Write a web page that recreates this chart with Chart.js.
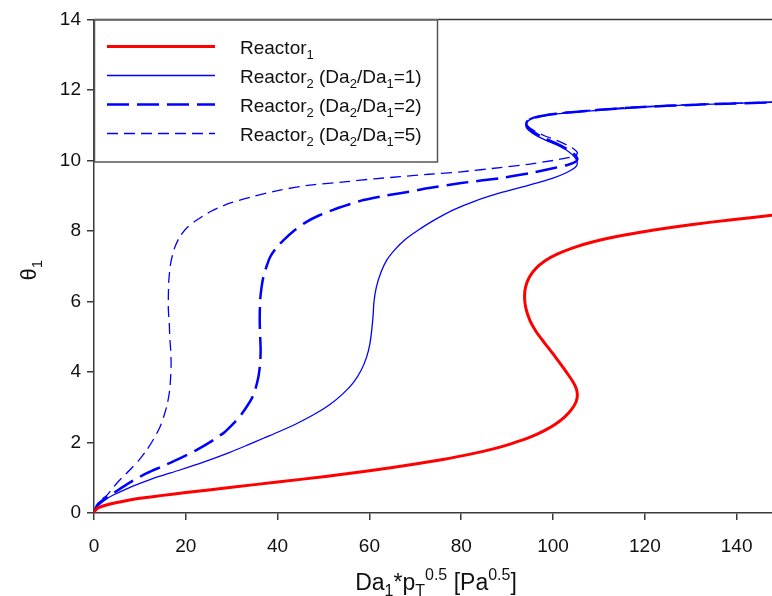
<!DOCTYPE html>
<html>
<head>
<meta charset="utf-8">
<script src="https://cdn.jsdelivr.net/npm/chart.js@4.4.1/dist/chart.umd.min.js"></script>
<style>
  html, body { margin: 0; padding: 0; background: #fff; overflow: hidden; }
  #wrap { width: 772px; height: 596px; position: relative; }
</style>
</head>
<body>
<div id="wrap"><canvas id="c" width="772" height="596"></canvas></div>
<script>
// Tick values of both axes
const xTickValues = [0, 20, 40, 60, 80, 100, 120, 140];
const yTickValues = [0, 2, 4, 6, 8, 10, 12, 14];

// Axis titles and legend entries (_{..} = subscript, ^{..} = superscript)
const xTitle = 'Da_{1}*p_{T}^{0.5} [Pa^{0.5}]';
const yTitle = '\u03B8_{1}';
const seriesLabels = [
  'Reactor_{1}',
  'Reactor_{2} (Da_{2}/Da_{1}=1)',
  'Reactor_{2} (Da_{2}/Da_{1}=2)',
  'Reactor_{2} (Da_{2}/Da_{1}=5)'
];

// theta_1 vs Da_1*p_T^0.5 along each steady-state branch, [x, y]
const reactor1 = [
  [0, 0], [0.3, 0.08], [1, 0.15], [2.5, 0.22], [5, 0.3], [10, 0.42], [15, 0.5],
  [20, 0.58], [30, 0.73], [40, 0.88], [50, 1.03], [60, 1.2], [70, 1.39],
  [76, 1.52], [82, 1.67], [87, 1.82], [91, 1.97], [95, 2.15], [98, 2.33],
  [100.5, 2.52], [102.5, 2.72], [104, 2.93], [105, 3.15], [105.3, 3.35],
  [105, 3.55], [104.2, 3.75], [103, 3.98], [101.5, 4.25], [99.8, 4.55],
  [98, 4.85], [96.3, 5.15], [95, 5.45], [94.1, 5.8], [93.8, 6.1], [94, 6.4],
  [94.8, 6.68], [96.2, 6.93], [98.2, 7.15], [101, 7.35], [104.5, 7.53],
  [109, 7.7], [115, 7.87], [122, 8.03], [130, 8.18], [139, 8.32], [148, 8.45]
];
const reactor2Ratio1 = [
  [0, 0], [0.3, 0.1], [1, 0.22], [2.5, 0.38], [4.2, 0.51], [7, 0.68], [10, 0.84],
  [14, 1.03], [18.7, 1.22], [24, 1.45], [29.6, 1.72], [33.5, 1.93], [36.9, 2.12],
  [40.5, 2.32], [44.2, 2.54], [48, 2.8], [51.4, 3.08], [54.2, 3.38], [56.5, 3.7],
  [58.2, 4.05], [59.4, 4.43], [60.1, 4.8], [60.5, 5.19], [60.8, 5.6], [61, 6.0],
  [61.5, 6.4], [62.5, 6.82], [63.8, 7.18], [65.6, 7.48], [67.8, 7.76],
  [70.6, 8.02], [74, 8.3], [78.3, 8.6], [83, 8.85], [89, 9.1], [95, 9.31],
  [100, 9.5], [103, 9.66], [104.8, 9.8], [105.3, 9.92], [104.8, 10.08],
  [103.2, 10.27], [100.8, 10.44], [98, 10.6], [95.6, 10.77], [94.2, 10.93],
  [94.2, 11.08], [95.8, 11.2], [99, 11.29], [104, 11.36], [110.3, 11.43],
  [117, 11.49], [124.8, 11.55], [135, 11.6], [148, 11.65]
];
const reactor2Ratio2 = [
  [0, 0], [0.3, 0.12], [1, 0.27], [2.5, 0.42], [4.2, 0.56], [7.5, 0.84],
  [11.5, 1.13], [15, 1.33], [18.7, 1.55], [22.5, 1.8], [26, 2.07], [28.5, 2.3],
  [30.4, 2.54], [32, 2.78], [33.3, 3.02], [34.4, 3.26], [35.1, 3.49],
  [35.8, 3.85], [36.2, 4.25], [36.3, 4.65], [36.2, 5.0], [36.1, 5.5],
  [36.2, 6.04], [36.5, 6.4], [36.9, 6.7], [37.6, 7.0], [38.4, 7.27],
  [39.7, 7.52], [41.3, 7.74], [43.5, 8.0], [46.3, 8.26], [49, 8.44],
  [52.1, 8.6], [55.5, 8.75], [58.7, 8.88], [62.5, 8.98], [66.7, 9.07],
  [73, 9.22], [80, 9.36], [88.5, 9.5], [95, 9.64], [100, 9.78], [103.3, 9.88],
  [105, 9.97], [105.3, 10.05], [104.6, 10.18], [103, 10.33], [100.8, 10.48],
  [98, 10.64], [95.6, 10.82], [94.3, 10.97], [94.3, 11.1], [95.8, 11.21],
  [99, 11.3], [104, 11.37], [110.3, 11.44], [117, 11.5], [124.8, 11.55],
  [135, 11.6], [148, 11.65]
];
const reactor2Ratio5 = [
  [0, 0], [0.3, 0.12], [1, 0.3], [1.8, 0.4], [2.8, 0.5], [5, 0.85], [7.8, 1.22],
  [9.8, 1.5], [11.5, 1.79], [13, 2.1], [14.4, 2.45], [15.3, 2.78], [16, 3.11],
  [16.5, 3.5], [16.7, 3.87], [16.8, 4.25], [16.7, 4.62], [16.5, 5.0],
  [16.4, 5.38], [16.2, 5.76], [16.2, 6.14], [16.3, 6.6], [16.7, 7.08],
  [17.5, 7.5], [18.7, 7.84], [20.3, 8.1], [22.4, 8.31], [25.5, 8.56],
  [29.6, 8.79], [35, 8.99], [40.5, 9.16], [47, 9.3], [55.1, 9.4], [61, 9.48],
  [66.7, 9.54], [73, 9.61], [80, 9.68], [88.5, 9.8], [95, 9.9], [100, 10.0],
  [103.3, 10.08], [105, 10.15], [105.3, 10.22], [104.6, 10.32], [103, 10.44],
  [100.8, 10.57], [98, 10.71], [95.6, 10.87], [94.4, 11.0], [94.4, 11.13],
  [95.8, 11.23], [99, 11.31], [104, 11.38], [110.3, 11.45], [117, 11.51],
  [124.8, 11.56], [135, 11.61], [148, 11.66]
];

const FONT = '"Liberation Sans", Arial, sans-serif';
const AXIS_COLOR = '#3a3a3a';

// ---- rich text with sub/superscripts ----
function parseRich(s) {
  const out = [];
  const re = /([_^])\{([^}]*)\}|([^_^]+)/g;
  let m;
  while ((m = re.exec(s))) {
    if (m[3] !== undefined) out.push({ t: m[3], k: 0 });
    else out.push({ t: m[2], k: m[1] === '_' ? 1 : -1 });
  }
  return out;
}
function plain(s) { return s.replace(/[_^]\{([^}]*)\}/g, '$1'); }
function richWidth(ctx, parts, size) {
  let w = 0;
  for (const p of parts) {
    ctx.font = (p.k ? Math.round(size * 0.68) : size) + 'px ' + FONT;
    w += ctx.measureText(p.t).width;
  }
  return w;
}
function drawRich(ctx, s, x, baseline, size, align) {
  const parts = parseRich(s);
  let cx = x;
  if (align === 'center') cx = x - richWidth(ctx, parts, size) / 2;
  ctx.textBaseline = 'alphabetic';
  ctx.textAlign = 'left';
  for (const p of parts) {
    const fs = p.k ? Math.round(size * 0.68) : size;
    ctx.font = fs + 'px ' + FONT;
    const dy = p.k === 1 ? size * 0.28 : p.k === -1 ? -size * 0.42 : 0;
    ctx.fillText(p.t, cx, baseline + dy);
    cx += ctx.measureText(p.t).width;
  }
}

// top frame line, axis titles and the boxed legend
const decorations = {
  id: 'decorations',
  afterDatasetsDraw(chart) {
    const ctx = chart.ctx;
    const a = chart.chartArea;
    ctx.save();
    ctx.strokeStyle = AXIS_COLOR;
    ctx.lineWidth = 1.5;
    ctx.beginPath();
    ctx.moveTo(a.left, a.top);
    ctx.lineTo(a.right, a.top);
    ctx.stroke();

    // legend
    const bx = a.left, by = a.top, bw = 344, bh = 143;
    ctx.fillStyle = '#fff';
    ctx.fillRect(bx, by, bw, bh);
    ctx.strokeStyle = '#555';
    ctx.lineWidth = 1.5;
    ctx.strokeRect(bx + 0.5, by + 0.5, bw - 1, bh - 1);
    chart.data.datasets.forEach((ds, i) => {
      const rowY = by + 27 + i * 29;
      ctx.strokeStyle = ds.borderColor;
      ctx.lineWidth = ds.borderWidth;
      ctx.setLineDash(ds.borderDash || []);
      ctx.beginPath();
      ctx.moveTo(bx + 13, rowY);
      ctx.lineTo(bx + 121, rowY);
      ctx.stroke();
      ctx.setLineDash([]);
      ctx.fillStyle = '#111';
      drawRich(ctx, seriesLabels[i], bx + 146, rowY + 7, 19);
    });

    // axis titles
    ctx.fillStyle = '#111';
    drawRich(ctx, xTitle, (a.left + a.right) / 2 + 3, 590, 23, 'center');
    ctx.translate(36, (a.top + a.bottom) / 2 + 4);
    ctx.rotate(-Math.PI / 2);
    drawRich(ctx, yTitle, 0, 0, 22, 'center');
    ctx.restore();
  }
};

const toPts = arr => arr.map(([x, y]) => ({ x, y }));

new Chart(document.getElementById('c').getContext('2d'), {
  type: 'scatter',
  data: {
    datasets: [
      { label: plain(seriesLabels[0]), data: toPts(reactor1), borderColor: '#ff0000', borderWidth: 3, borderDash: [] },
      { label: plain(seriesLabels[1]), data: toPts(reactor2Ratio1), borderColor: '#0000ff', borderWidth: 1.3, borderDash: [] },
      { label: plain(seriesLabels[2]), data: toPts(reactor2Ratio2), borderColor: '#0000ff', borderWidth: 2.5, borderDash: [22, 8] },
      { label: plain(seriesLabels[3]), data: toPts(reactor2Ratio5), borderColor: '#0000ff', borderWidth: 1.3, borderDash: [11, 6] }
    ].map(d => Object.assign(d, { showLine: true, pointRadius: 0, pointHoverRadius: 0, tension: 0.25, fill: false }))
  },
  options: {
    responsive: false,
    animation: false,
    events: [],
    layout: { padding: { top: 19.5, right: 0, left: 0, bottom: 0 } },
    plugins: { legend: { display: false }, tooltip: { enabled: false } },
    scales: {
      x: {
        type: 'linear', min: 0, max: 147.7,
        afterBuildTicks: s => { s.ticks = xTickValues.map(v => ({ value: v })); },
        afterFit: s => { s.height = 83; },
        grid: { drawOnChartArea: false, drawTicks: true, tickLength: 7, color: AXIS_COLOR, lineWidth: 1.5 },
        border: { display: true, color: AXIS_COLOR, width: 1.5 },
        ticks: { color: '#111', font: { family: FONT, size: 19 }, padding: 15, maxRotation: 0 }
      },
      y: {
        type: 'linear', min: 0, max: 14,
        afterBuildTicks: s => { s.ticks = yTickValues.map(v => ({ value: v })); },
        afterFit: s => { s.width = 94; },
        grid: { drawOnChartArea: false, drawTicks: true, tickLength: 7, color: AXIS_COLOR, lineWidth: 1.5 },
        border: { display: true, color: AXIS_COLOR, width: 1.5 },
        ticks: { color: '#111', font: { family: FONT, size: 19 }, padding: 6 }
      }
    }
  },
  plugins: [decorations]
});
</script>
</body>
</html>
